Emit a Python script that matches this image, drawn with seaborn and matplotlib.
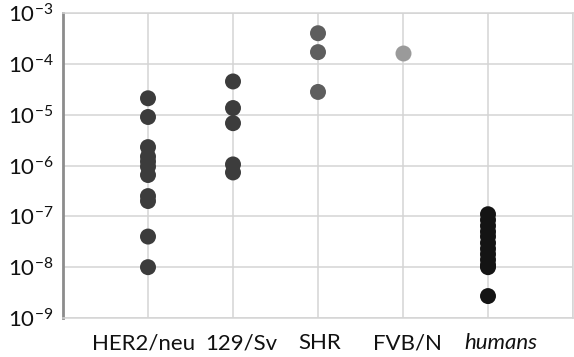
import matplotlib
matplotlib.use("Agg")
import matplotlib.pyplot as plt
import numpy as np
import pandas as pd
import seaborn as sns

categories = ["HER2/neu", "129/Sv", "SHR", "FVB/N", "humans"]

her2_neu = [2.1e-5, 9.0e-6, 2.3e-6, 1.5e-6, 1.2e-6, 9.5e-7, 6.5e-7, 2.5e-7, 2.0e-7, 4.0e-8, 1.0e-8]
sv129 = [4.5e-5, 1.35e-5, 6.8e-6, 1.05e-6, 7.3e-7]
shr = [4.0e-4, 1.7e-4, 2.8e-5]
fvb_n = [1.65e-4]
humans = [1.1e-7, 8.5e-8, 6.5e-8, 5.0e-8, 4.0e-8, 3.0e-8, 2.3e-8, 1.8e-8, 1.4e-8, 1.1e-8, 1.0e-8, 2.7e-9]

colors = ["#3c3c3c", "#3c3c3c", "#5e5e5e", "#9a9a9a", "#141414"]
ytick_exponents = [-9, -8, -7, -6, -5, -4, -3]
# horizontal nudge (px) of each category label under its column
label_shift_px = [-4.5, 8, 1.5, 4, 13]

values = [her2_neu, sv129, shr, fvb_n, humans]
df = pd.DataFrame({
    "group": [c for c, v in zip(categories, values) for _ in v],
    "value": [x for v in values for x in v],
})

sns.set_theme(style="white")
plt.rcParams["font.family"] = ["Lato", "DejaVu Sans"]
plt.rcParams["mathtext.default"] = "regular"

fig = plt.figure(figsize=(5.74, 3.57), dpi=100)
ax = fig.add_axes([63 / 574, 1 - 318 / 357, 510 / 574, 305 / 357])

sns.stripplot(data=df, x="group", y="value", hue="group", order=categories,
              hue_order=categories, palette=colors, jitter=False, size=11.5,
              linewidth=0, legend=False, ax=ax, zorder=3)

ax.set_yscale("log")
ax.set_ylim(1e-9, 1e-3)
ax.set_xlim(-1, 5)

ax.set_yticks([10.0 ** e for e in ytick_exponents])
ax.set_yticklabels([f"$10^{{{e}}}$".replace("-", "\u2212") for e in ytick_exponents],
                   fontsize=16, color="#111111")
ax.yaxis.set_minor_locator(matplotlib.ticker.NullLocator())

ax.set_xticks(range(-1, 6))
ax.set_xticklabels([""] * 7)

# category names under the columns
for i, (name, dx) in enumerate(zip(categories, label_shift_px)):
    ax.annotate(name, xy=(i, 0), xycoords=ax.get_xaxis_transform(),
                xytext=(dx, -15), textcoords="offset pixels",
                ha="center", va="top", fontsize=16, color="#111111",
                fontstyle="italic" if name == "humans" else "normal")

ax.tick_params(axis="both", length=0)
ax.tick_params(axis="y", pad=7)

ax.grid(True, which="major", color="#d4d4d4", linewidth=1.1)
ax.set_axisbelow(True)
for side in ["top", "right", "bottom"]:
    ax.spines[side].set_color("#d4d4d4")
    ax.spines[side].set_linewidth(1.1)
ax.spines["left"].set_color("#8c8c8c")
ax.spines["left"].set_linewidth(2)

ax.set_xlabel("")
ax.set_ylabel("")

fig.savefig("out.png", dpi=100)
